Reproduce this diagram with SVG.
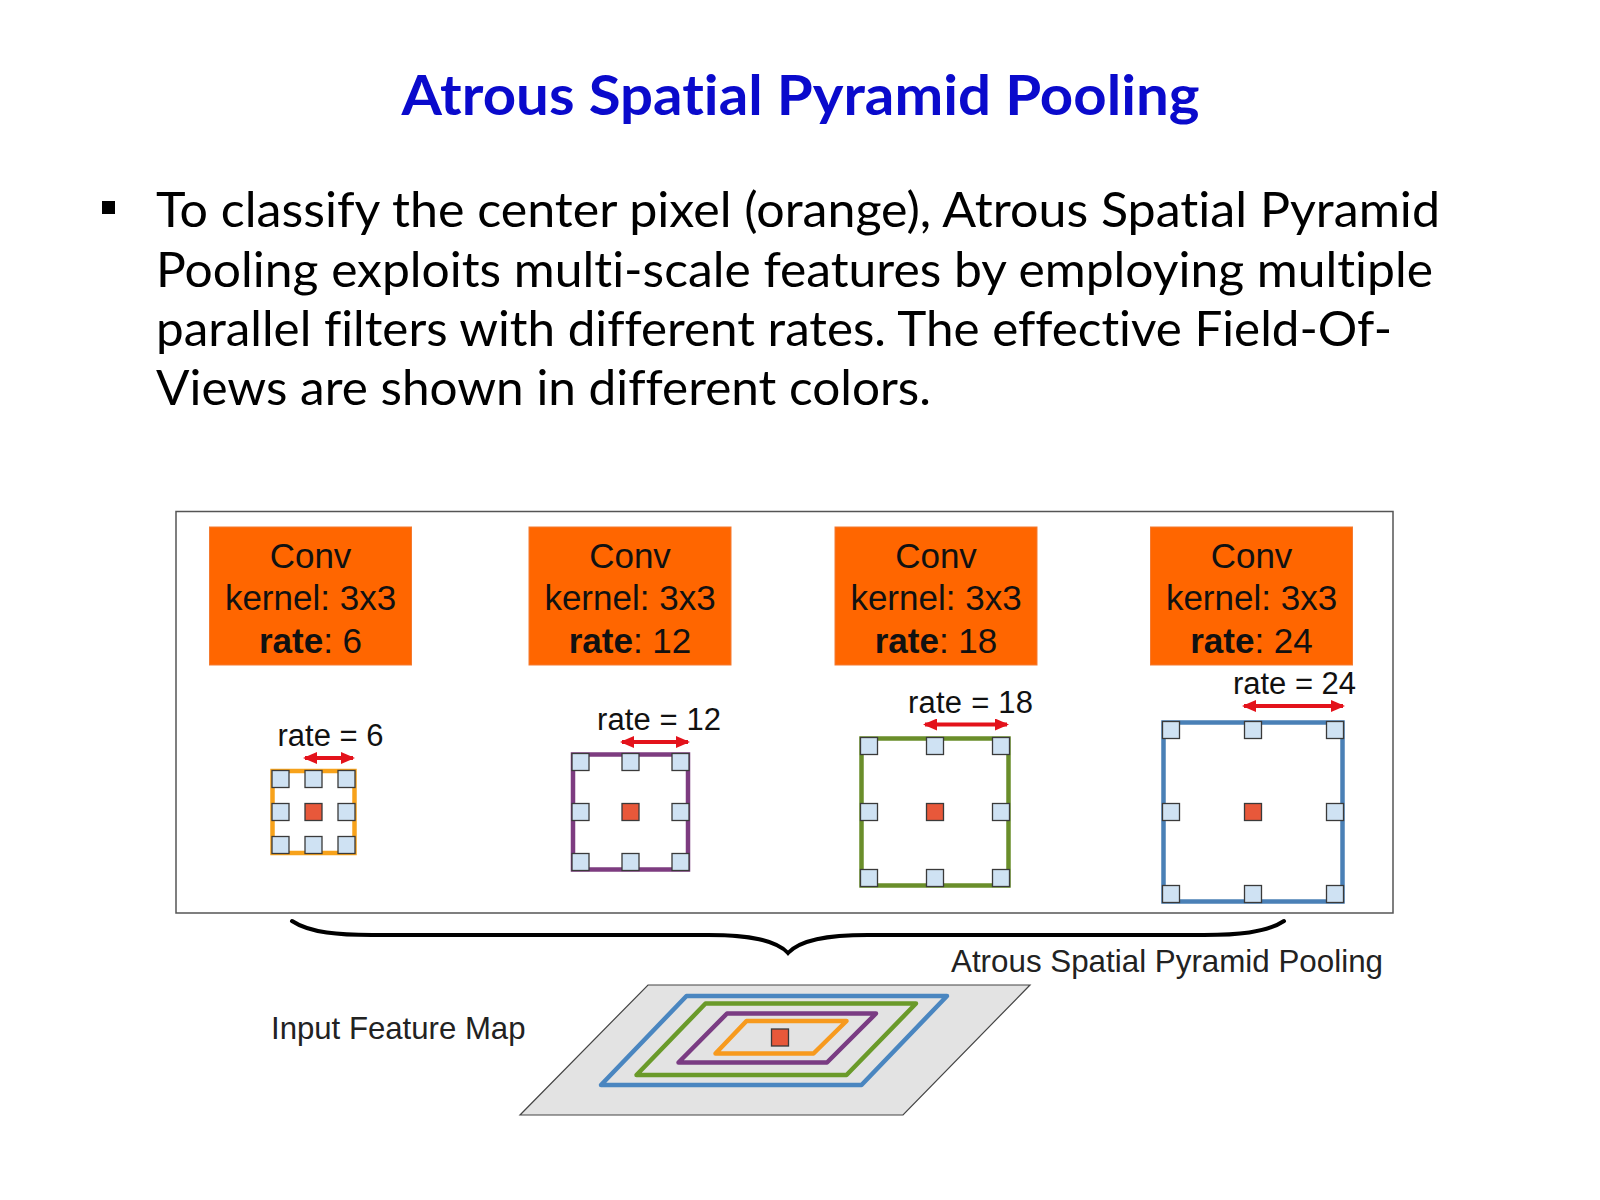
<svg xmlns="http://www.w3.org/2000/svg" width="1600" height="1200" viewBox="0 0 1600 1200">
<style>
.title{font-family:Lato,"Open Sans","DejaVu Sans",sans-serif;font-weight:700;font-size:56px;fill:#0A0ACC;font-variant-ligatures:none}
.body{font-family:Lato,"Open Sans","DejaVu Sans",sans-serif;font-size:48px;fill:#000;font-variant-ligatures:none}
.box{fill:#FF6600;stroke:#F47A30;stroke-width:1}
.bt{font-family:"Liberation Sans",Arial,sans-serif;font-size:35px;fill:#111;text-anchor:middle}
.rl{font-family:"Liberation Sans",Arial,sans-serif;font-size:31px;fill:#111}
.lbl{font-family:"Liberation Sans",Arial,sans-serif;font-size:32px;fill:#222}
.sq{fill:#CFE2F3;stroke:#3a3a3a;stroke-width:1.3}
.ct{fill:#E8583A;stroke:#3a3a3a;stroke-width:1.3}
.fr{fill:none;stroke-width:4.5}
.arr{stroke:#E3121B;stroke-width:4;fill:none;marker-start:url(#ah);marker-end:url(#ah)}
.pg{fill:none;stroke-width:4.5;stroke-linejoin:round}
</style>
<defs>
<marker id="ah" viewBox="0 0 14 12" refX="12" refY="6" markerWidth="14" markerHeight="12" markerUnits="userSpaceOnUse" orient="auto-start-reverse">
<path d="M0 0 L14 6 L0 12 Z" fill="#E3121B"/>
</marker>
<g id="cell"><rect class="sq" x="-8.5" y="-8.5" width="17" height="17"/></g>
</defs>
<rect width="1600" height="1200" fill="#fff"/>

<g id="title">
<text class="title" x="401.5" y="115" textLength="798" lengthAdjust="spacingAndGlyphs">Atrous Spatial Pyramid Pooling</text>
</g>

<g id="bullet">
<rect x="102" y="201" width="13" height="13" fill="#000"/>
<text class="body" x="156" y="226.5" textLength="1284" lengthAdjust="spacingAndGlyphs">To classify the center pixel (orange), Atrous Spatial Pyramid</text>
<text class="body" x="156" y="286.5" textLength="1277" lengthAdjust="spacingAndGlyphs">Pooling exploits multi-scale features by employing multiple</text>
<text class="body" x="156" y="346" textLength="1236" lengthAdjust="spacingAndGlyphs">parallel filters with different rates. The effective Field-Of-</text>
<text class="body" x="156" y="405" textLength="775" lengthAdjust="spacingAndGlyphs">Views are shown in different colors.</text>
</g>

<g id="panel">
<rect x="176" y="511.5" width="1217" height="401.5" fill="#fff" stroke="#555" stroke-width="1.5"/>
</g>

<g id="conv6">
<rect class="box" x="209.5" y="527" width="202" height="138"/>
<text class="bt" x="310.5" y="568">Conv</text>
<text class="bt" x="310.5" y="610">kernel: 3x3</text>
<text class="bt" x="310.5" y="652.5"><tspan font-weight="700">rate</tspan>: 6</text>
</g>
<g id="conv12">
<rect class="box" x="529" y="527" width="202" height="138"/>
<text class="bt" x="630" y="568">Conv</text>
<text class="bt" x="630" y="610">kernel: 3x3</text>
<text class="bt" x="630" y="652.5"><tspan font-weight="700">rate</tspan>: 12</text>
</g>
<g id="conv18">
<rect class="box" x="835" y="527" width="202" height="138"/>
<text class="bt" x="936" y="568">Conv</text>
<text class="bt" x="936" y="610">kernel: 3x3</text>
<text class="bt" x="936" y="652.5"><tspan font-weight="700">rate</tspan>: 18</text>
</g>
<g id="conv24">
<rect class="box" x="1150.5" y="527" width="202" height="138"/>
<text class="bt" x="1251.5" y="568">Conv</text>
<text class="bt" x="1251.5" y="610">kernel: 3x3</text>
<text class="bt" x="1251.5" y="652.5"><tspan font-weight="700">rate</tspan>: 24</text>
</g>

<g id="grid6" transform="translate(313.5 812)">
<rect class="fr" stroke="#F7A21B" x="-41" y="-41" width="82" height="82"/>
<use href="#cell" x="-33" y="-33"/><use href="#cell" x="0" y="-33"/><use href="#cell" x="33" y="-33"/>
<use href="#cell" x="-33" y="0"/><use href="#cell" x="33" y="0"/>
<use href="#cell" x="-33" y="33"/><use href="#cell" x="0" y="33"/><use href="#cell" x="33" y="33"/>
<rect class="ct" x="-8.5" y="-8.5" width="17" height="17"/>
</g>
<g id="grid12" transform="translate(630.5 812)">
<rect class="fr" stroke="#7D3C80" x="-57.5" y="-57.5" width="115" height="115"/>
<use href="#cell" x="-50" y="-50"/><use href="#cell" x="0" y="-50"/><use href="#cell" x="50" y="-50"/>
<use href="#cell" x="-50" y="0"/><use href="#cell" x="50" y="0"/>
<use href="#cell" x="-50" y="50"/><use href="#cell" x="0" y="50"/><use href="#cell" x="50" y="50"/>
<rect class="ct" x="-8.5" y="-8.5" width="17" height="17"/>
</g>
<g id="grid18" transform="translate(935 812)">
<rect class="fr" stroke="#6A8E2A" x="-73.5" y="-73.5" width="147" height="147"/>
<use href="#cell" x="-66" y="-66"/><use href="#cell" x="0" y="-66"/><use href="#cell" x="66" y="-66"/>
<use href="#cell" x="-66" y="0"/><use href="#cell" x="66" y="0"/>
<use href="#cell" x="-66" y="66"/><use href="#cell" x="0" y="66"/><use href="#cell" x="66" y="66"/>
<rect class="ct" x="-8.5" y="-8.5" width="17" height="17"/>
</g>
<g id="grid24" transform="translate(1253 812)">
<rect class="fr" stroke="#4A80B6" x="-89.5" y="-89.5" width="179" height="179"/>
<use href="#cell" x="-82" y="-82"/><use href="#cell" x="0" y="-82"/><use href="#cell" x="82" y="-82"/>
<use href="#cell" x="-82" y="0"/><use href="#cell" x="82" y="0"/>
<use href="#cell" x="-82" y="82"/><use href="#cell" x="0" y="82"/><use href="#cell" x="82" y="82"/>
<rect class="ct" x="-8.5" y="-8.5" width="17" height="17"/>
</g>

<g id="rate-labels">
<text class="rl" x="277.5" y="746" textLength="106">rate = 6</text>
<text class="rl" x="597" y="730" textLength="124">rate = 12</text>
<text class="rl" x="908" y="713" textLength="125">rate = 18</text>
<text class="rl" x="1233" y="694" textLength="123">rate = 24</text>
</g>

<g id="connectors">
<path class="arr" d="M305 758 L353 758"/>
<path class="arr" d="M622 742 L688 742"/>
<path class="arr" d="M925 724.5 L1007 724.5"/>
<path class="arr" d="M1244 706 L1343 706"/>
<path d="M292 921 C310 933 340 935 372 935 L708 935 C750 935 776 940 788 953 C800 940 826 935 868 935 L1204 935 C1236 935 1266 933 1284 921" fill="none" stroke="#000" stroke-width="4" stroke-linecap="round"/>
</g>

<g id="aspp-label">
<text class="lbl" x="951" y="972" textLength="432" lengthAdjust="spacingAndGlyphs">Atrous Spatial Pyramid Pooling</text>
</g>

<g id="input-map">
<polygon points="648,985 1030,985 903,1115 520,1115" fill="#E3E3E3" stroke="#444" stroke-width="1.2"/>
<polygon class="pg" stroke="#4A86C0" points="686.5,996 947,996 861.5,1085 601,1085"/>
<polygon class="pg" stroke="#6A9A2A" points="705.5,1003.5 916,1003.5 846.5,1075 636.5,1075"/>
<polygon class="pg" stroke="#7A3C83" points="727,1013.5 876,1013.5 827,1062.5 678.5,1062.5"/>
<polygon class="pg" stroke="#F79A1E" points="746.5,1021 846.5,1021 813.5,1053.5 715.5,1053.5"/>
<rect x="771.5" y="1029" width="17" height="17" fill="#E8583A" stroke="#3a3a3a" stroke-width="1.3"/>
<text class="lbl" x="271" y="1039" textLength="254.5" lengthAdjust="spacingAndGlyphs">Input Feature Map</text>
</g>
</svg>
